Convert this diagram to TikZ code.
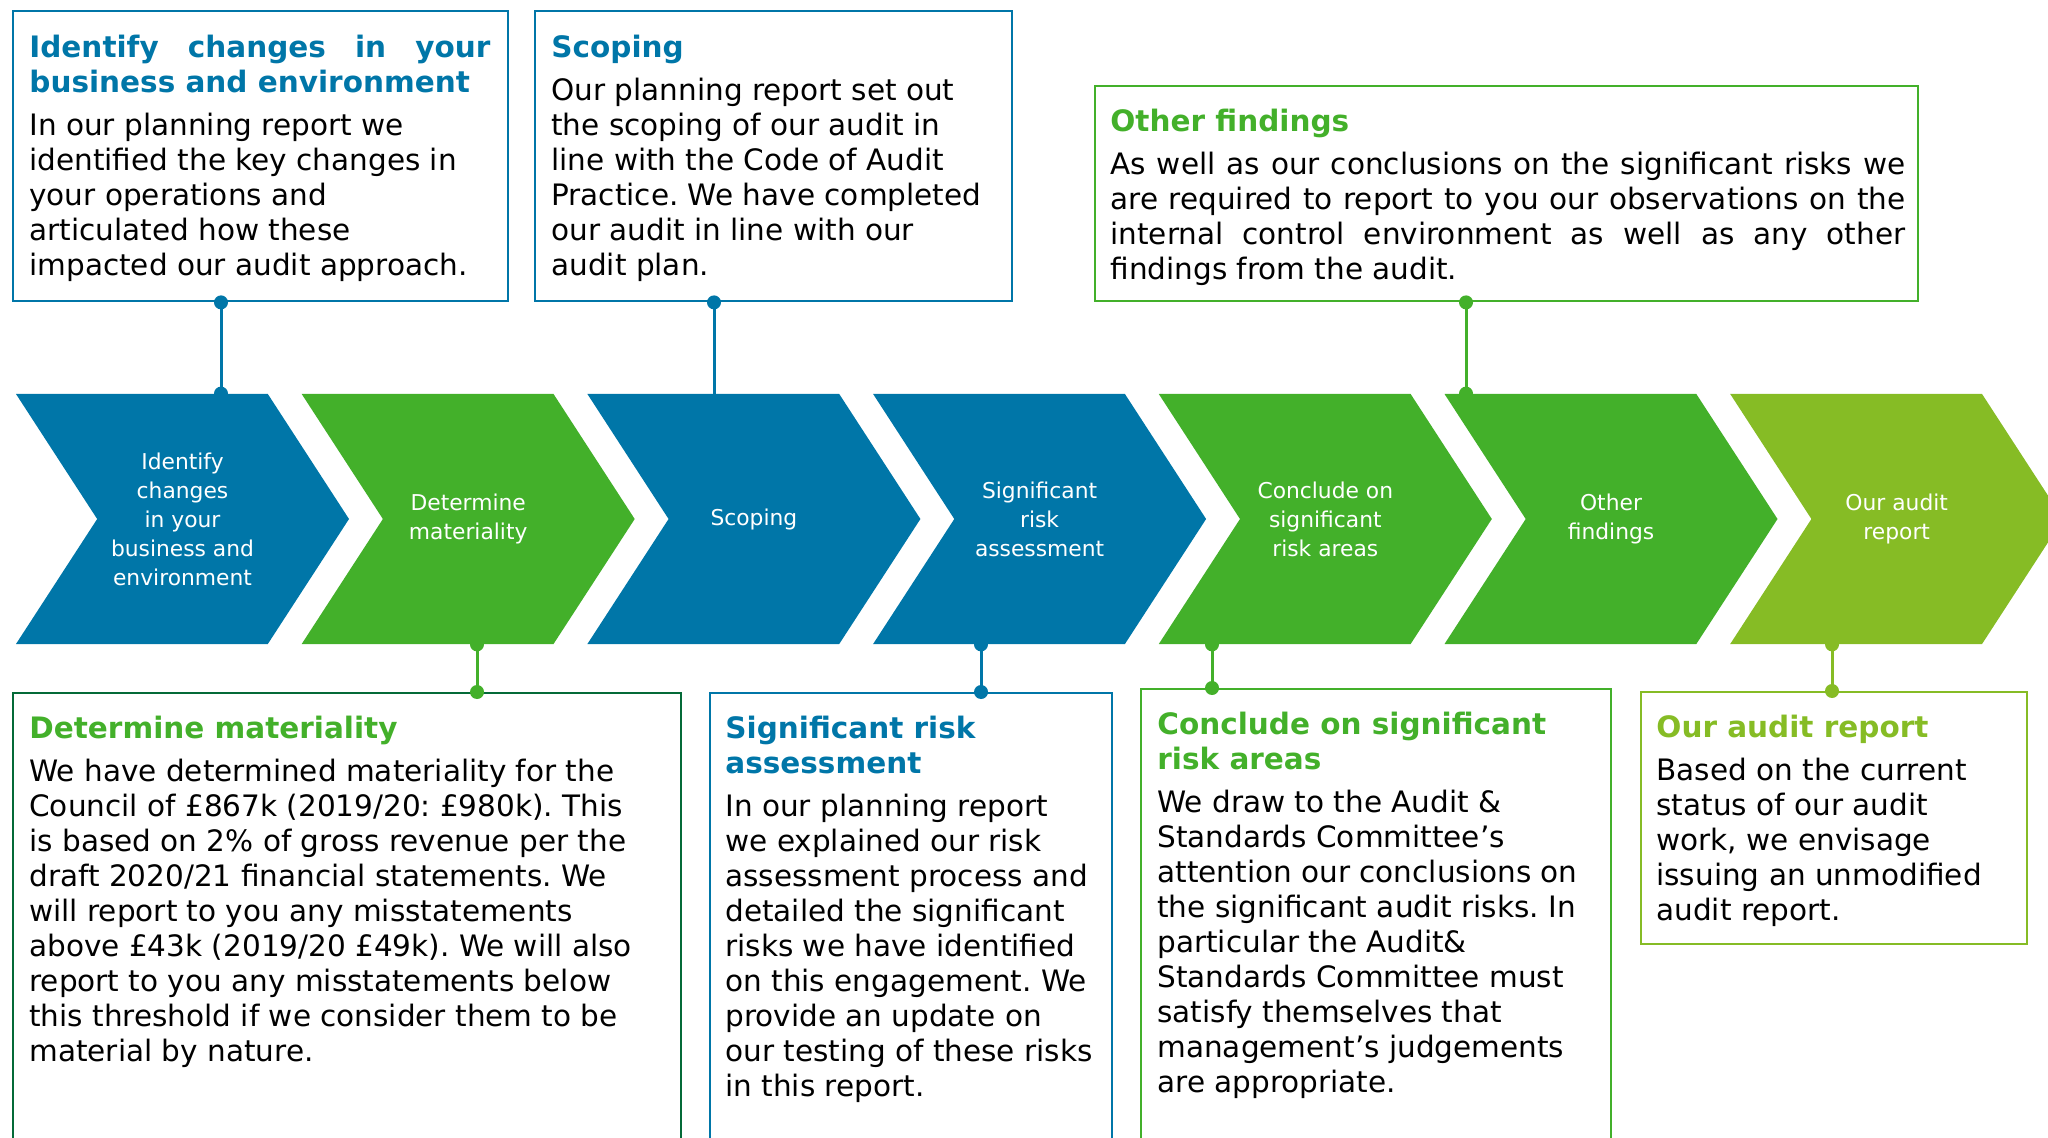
\documentclass[tikz,border=0pt]{standalone}
\usepackage{fontspec}
\setmainfont{DejaVu Sans}
\usetikzlibrary{shapes.symbols, positioning}
\frenchspacing

\definecolor{auditblue}{HTML}{0076A8}
\definecolor{auditgreen}{HTML}{43B02A}
\definecolor{auditlime}{HTML}{86BC25}
\definecolor{auditdark}{HTML}{046A38}

\newcommand{\boxfont}{\fontsize{14.75}{17.5}\selectfont}
\newcommand{\chevfont}{\fontsize{10.9}{14.5}\selectfont}
\newcommand{\bluetitle}[1]{{\color{auditblue}\bfseries #1}}
\newcommand{\greentitle}[1]{{\color{auditgreen}\bfseries #1}}
\newcommand{\limetitle}[1]{{\color{auditlime}\bfseries #1}}

\tikzstyle{chevron} = [signal, 
signal from=west, 
signal to=east, 
signal pointer angle=114, 
minimum width=166.5pt, 
minimum height=125pt, 
inner sep=0pt, 
text=white, 
align=center, 
font=\chevfont]
\tikzstyle{bluechev} = [chevron, fill=auditblue]
\tikzstyle{greenchev} = [chevron, fill=auditgreen]
\tikzstyle{limechev} = [chevron, fill=auditlime]
\tikzstyle{infobox} = [rectangle, 
anchor=north west, 
line width=1.2pt, 
inner sep=0pt]
\tikzstyle{boxtext} = [align=left, inner sep=0pt, font=\boxfont]
\tikzstyle{link} = [line width=1.5pt]

\begin{document}
\begin{tikzpicture}[x=0.5pt, y=-0.5pt, node distance=142.85pt]

\useasboundingbox (0,0) rectangle (2048,1138);

% Chevrons
\node (chev1) [bluechev] at (182.5,519) {Identify\\changes\\in your\\business and\\environment};
\node (chev2) [greenchev, right of=chev1] {Determine\\materiality};
\node (chev3) [bluechev, right of=chev2] {Scoping};
\node (chev4) [bluechev, right of=chev3] {Significant\\risk\\assessment};
\node (chev5) [greenchev, right of=chev4] {Conclude on\\significant\\risk areas};
\node (chev6) [greenchev, right of=chev5] {Other\\findings};
\node (chev7) [limechev, right of=chev6] {Our audit\\report};

% Boxes
\node (idbox) [infobox, draw=auditblue, minimum width=247.5pt, minimum height=145pt] at (12,10) {};
\node (scopebox) [infobox, draw=auditblue, minimum width=238.5pt, minimum height=145pt] at (534,10) {};
\node (otherbox) [infobox, draw=auditgreen, minimum width=411.5pt, minimum height=107.5pt] at (1094,85) {};
\node (matbox) [infobox, draw=auditdark, minimum width=334pt, minimum height=240pt] at (12,692) {};
\node (riskbox) [infobox, draw=auditblue, minimum width=201pt, minimum height=240pt] at (709,692) {};
\node (concbox) [infobox, draw=auditgreen, minimum width=235pt, minimum height=242pt] at (1140,688) {};
\node (repbox) [infobox, draw=auditlime, minimum width=193pt, minimum height=126pt] at (1640,691) {};

% Texts
\node (idtext) [boxtext, below right=12.2pt and 8.5pt of idbox.north west] {\bluetitle{\makebox[230.5pt][s]{Identify changes in your}}\\
\bluetitle{business and environment}\\[4pt]
In our planning report we\\
identified the key changes in\\
your operations and\\
articulated how these\\
impacted our audit approach.};
\node (scopetext) [boxtext, below right=12.2pt and 8.5pt of scopebox.north west] {\bluetitle{Scoping}\\[4pt]
Our planning report set out\\
the scoping of our audit in\\
line with the Code of Audit\\
Practice. We have completed\\
our audit in line with our\\
audit plan.};
\node (othertext) [boxtext, below right=11.7pt and 8pt of otherbox.north west] {\greentitle{Other findings}\\[4pt]
\makebox[397.5pt][s]{As well as our conclusions on the significant risks we}\\
\makebox[397.5pt][s]{are required to report to you our observations on the}\\
\makebox[397.5pt][s]{internal control environment as well as any other}\\
findings from the audit.};
\node (mattext) [boxtext, below right=11.7pt and 8.5pt of matbox.north west] {\greentitle{Determine materiality}\\[4pt]
We have determined materiality for the\\
Council of £867k (2019/20: £980k). This\\
is based on 2\% of gross revenue per the\\
draft 2020/21 financial statements. We\\
will report to you any misstatements\\
above £43k (2019/20 £49k). We will also\\
report to you any misstatements below\\
this threshold if we consider them to be\\
material by nature.};
\node (risktext) [boxtext, below right=11.7pt and 8pt of riskbox.north west] {\bluetitle{Significant risk}\\
\bluetitle{assessment}\\[4pt]
In our planning report\\
we explained our risk\\
assessment process and\\
detailed the significant\\
risks we have identified\\
on this engagement. We\\
provide an update on\\
our testing of these risks\\
in this report.};
\node (conctext) [boxtext, below right=11.7pt and 8.5pt of concbox.north west] {\greentitle{Conclude on significant}\\
\greentitle{risk areas}\\[4pt]
We draw to the Audit \&\\
Standards Committee’s\\
attention our conclusions on\\
the significant audit risks. In\\
particular the Audit\&\\
Standards Committee must\\
satisfy themselves that\\
management’s judgements\\
are appropriate.};
\node (reptext) [boxtext, below right=11.7pt and 8pt of repbox.north west] {\limetitle{Our audit report}\\[4pt]
Based on the current\\
status of our audit\\
work, we envisage\\
issuing an unmodified\\
audit report.};

% Connectors
\coordinate (idpin) at ([xshift=104.5pt]idbox.south west);
\coordinate (scopepin) at ([xshift=90pt]scopebox.south west);
\coordinate (otherpin) at ([xshift=186pt]otherbox.south west);
\coordinate (matpin) at ([xshift=232.5pt]matbox.north west);
\coordinate (riskpin) at ([xshift=136pt]riskbox.north west);
\coordinate (concpin) at ([xshift=36pt]concbox.north west);
\coordinate (reppin) at ([xshift=96pt]repbox.north west);

\draw [link, auditblue] (idpin) -- (idpin |- chev1.north);
\draw [link, auditblue] (scopepin) -- (scopepin |- chev3.north);
\draw [link, auditgreen] (otherpin) -- (otherpin |- chev6.north);
\draw [link, auditgreen] (matpin |- chev2.south) -- (matpin);
\draw [link, auditblue] (riskpin |- chev4.south) -- (riskpin);
\draw [link, auditgreen] (concpin |- chev5.south) -- (concpin);
\draw [link, auditlime] (reppin |- chev7.south) -- (reppin);

\fill [auditblue] (idpin) circle (3.5pt) (idpin |- chev1.north) circle (3.5pt);
\fill [auditblue] (scopepin) circle (3.5pt);
\fill [auditgreen] (otherpin) circle (3.5pt) (otherpin |- chev6.north) circle (3.5pt);
\fill [auditgreen] (matpin) circle (3.5pt) (matpin |- chev2.south) circle (3.5pt);
\fill [auditblue] (riskpin) circle (3.5pt) (riskpin |- chev4.south) circle (3.5pt);
\fill [auditgreen] (concpin) circle (3.5pt) (concpin |- chev5.south) circle (3.5pt);
\fill [auditlime] (reppin) circle (3.5pt) (reppin |- chev7.south) circle (3.5pt);

\end{tikzpicture}
\end{document}
